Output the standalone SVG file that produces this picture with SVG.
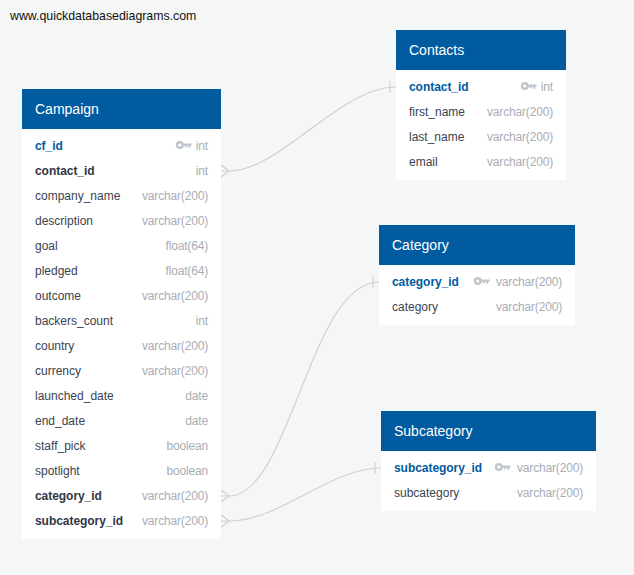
<svg xmlns="http://www.w3.org/2000/svg" width="634" height="575" viewBox="0 0 634 575">
<style>
text{font-family:"Liberation Sans",Arial,sans-serif;font-size:12px;fill:#3a4350}
.h{font-size:14px;fill:#fff}
.b{fill:#fff}
.hd{fill:#005ba1}
.pk{font-weight:bold;fill:#005ba1;letter-spacing:-.05px}
.fk{font-weight:bold;fill:#2f3845;letter-spacing:-.05px}
.t{fill:#a9adb3;text-anchor:end;letter-spacing:-.17px}
.c{fill:none;stroke:#cfd1d1;stroke-width:1.2}
.url{fill:#111;font-size:12.33px}
</style>
<defs>
<g id="key"><circle cx="3.8" cy="0" r="2.8" fill="none" stroke="#c0c6cc" stroke-width="2.4"/><path d="M6.5-1.6H15.5V.8H14.2V2.8H12.2V.8H10.8V2.2H8.8V.8H6.5Z" fill="#c0c6cc"/></g>
</defs>
<rect width="634" height="575" fill="#f5f7f7"/>
<text class="url" x="10" y="20">www.quickdatabasediagrams.com</text>
<g id="connectors">
<path class="c" d="M221 171H229C280 171 340 87 396 87"/>
<path class="c" d="M390 81V93M221 165L229 171L221 177"/>
<path class="c" d="M221 496H229C290 496 310 282 379 282"/>
<path class="c" d="M373 276V288M221 490L229 496L221 502"/>
<path class="c" d="M221 521H229C280 521 330 468 381 468"/>
<path class="c" d="M375 462V474M221 515L229 521L221 527"/>
</g>
<g id="campaign">
<rect class="b" x="22" y="89" width="199" height="450"/>
<rect class="hd" x="22" y="89" width="199" height="40"/>
<text class="h" x="35" y="114">Campaign</text>
<text class="pk" x="35" y="150">cf_id</text><use href="#key" x="176" y="145"/><text class="t" x="208" y="150">int</text>
<text class="fk" x="35" y="175">contact_id</text><text class="t" x="208" y="175">int</text>
<text x="35" y="200">company_name</text><text class="t" x="208" y="200">varchar(200)</text>
<text x="35" y="225">description</text><text class="t" x="208" y="225">varchar(200)</text>
<text x="35" y="250">goal</text><text class="t" x="208" y="250">float(64)</text>
<text x="35" y="275">pledged</text><text class="t" x="208" y="275">float(64)</text>
<text x="35" y="300">outcome</text><text class="t" x="208" y="300">varchar(200)</text>
<text x="35" y="325">backers_count</text><text class="t" x="208" y="325">int</text>
<text x="35" y="350">country</text><text class="t" x="208" y="350">varchar(200)</text>
<text x="35" y="375">currency</text><text class="t" x="208" y="375">varchar(200)</text>
<text x="35" y="400">launched_date</text><text class="t" x="208" y="400">date</text>
<text x="35" y="425">end_date</text><text class="t" x="208" y="425">date</text>
<text x="35" y="450">staff_pick</text><text class="t" x="208" y="450">boolean</text>
<text x="35" y="475">spotlight</text><text class="t" x="208" y="475">boolean</text>
<text class="fk" x="35" y="500">category_id</text><text class="t" x="208" y="500">varchar(200)</text>
<text class="fk" x="35" y="525">subcategory_id</text><text class="t" x="208" y="525">varchar(200)</text>
</g>
<g id="contacts">
<rect class="b" x="396" y="30" width="170" height="150"/>
<rect class="hd" x="396" y="30" width="170" height="40"/>
<text class="h" x="409" y="55">Contacts</text>
<text class="pk" x="409" y="91">contact_id</text><use href="#key" x="521" y="86"/><text class="t" x="553" y="91">int</text>
<text x="409" y="116">first_name</text><text class="t" x="553" y="116">varchar(200)</text>
<text x="409" y="141">last_name</text><text class="t" x="553" y="141">varchar(200)</text>
<text x="409" y="166">email</text><text class="t" x="553" y="166">varchar(200)</text>
</g>
<g id="category">
<rect class="b" x="379" y="225" width="196" height="100"/>
<rect class="hd" x="379" y="225" width="196" height="40"/>
<text class="h" x="392" y="250">Category</text>
<text class="pk" x="392" y="286">category_id</text><use href="#key" x="474" y="281"/><text class="t" x="562" y="286">varchar(200)</text>
<text x="392" y="311">category</text><text class="t" x="562" y="311">varchar(200)</text>
</g>
<g id="subcategory">
<rect class="b" x="381" y="411" width="215" height="100"/>
<rect class="hd" x="381" y="411" width="215" height="40"/>
<text class="h" x="394" y="436">Subcategory</text>
<text class="pk" x="394" y="472">subcategory_id</text><use href="#key" x="495" y="467"/><text class="t" x="583" y="472">varchar(200)</text>
<text x="394" y="497">subcategory</text><text class="t" x="583" y="497">varchar(200)</text>
</g>
</svg>
